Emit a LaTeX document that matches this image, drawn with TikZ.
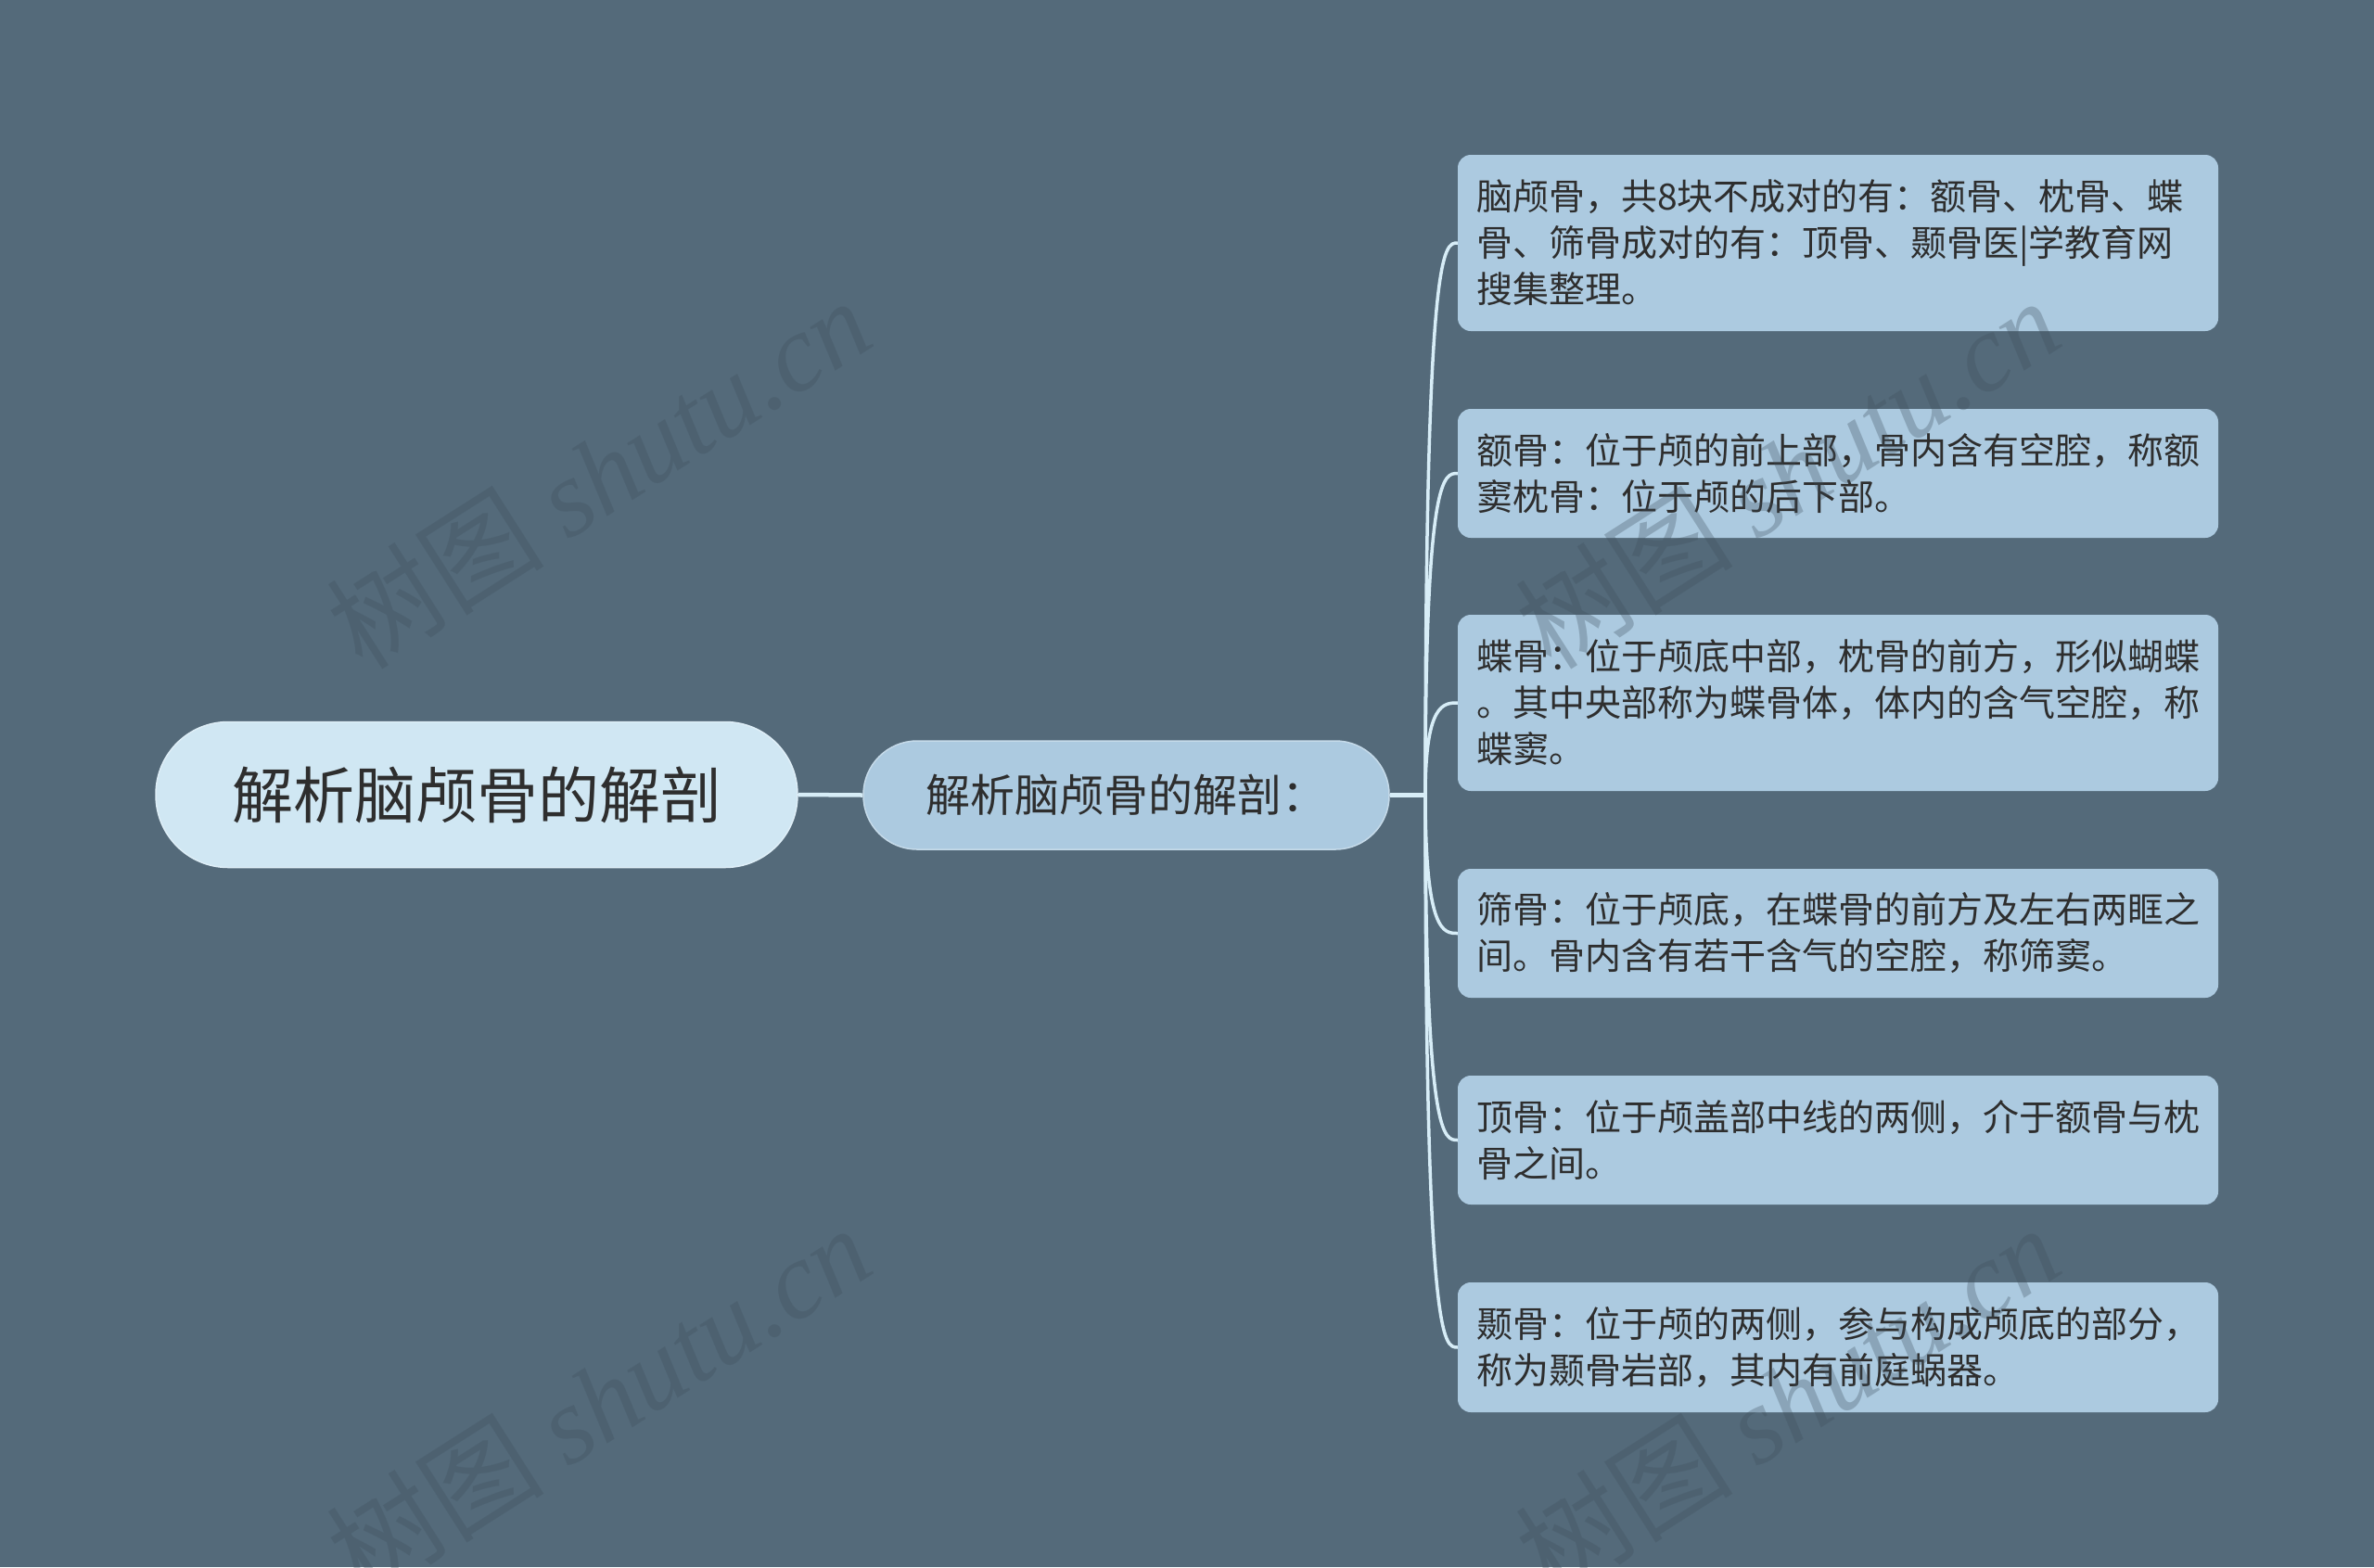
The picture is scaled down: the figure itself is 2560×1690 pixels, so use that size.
\documentclass[tikz,border=0pt]{standalone}
\usepackage{fontspec}
\setmainfont{Noto Sans CJK SC}
\newfontfamily\wmlatin{Liberation Serif}
\usetikzlibrary{calc}
\definecolor{bgc}{HTML}{546A7A}
\definecolor{rootc}{HTML}{D0E7F3}
\definecolor{boxc}{HTML}{ACCAE0}
\definecolor{linec}{HTML}{D7EDF7}
\definecolor{txtc}{HTML}{2E2E2E}
\definecolor{wmc}{HTML}{3E4F5C}
\tikzset{
  rootbox/.style={fill=rootc, draw=rootc!70!white, line width=1.5pt, rounded corners=78pt,
    minimum width=692pt, minimum height=157pt, inner sep=0pt, text=txtc,
    font=\fontsize{66}{80}\selectfont},
  subbox/.style={fill=boxc, draw=boxc!70!white, line width=1.5pt, rounded corners=58pt,
    minimum width=567pt, minimum height=117pt, inner sep=0pt, text=txtc,
    font=\fontsize{48}{60}\selectfont},
  leafbox/.style={fill=boxc, rounded corners=14pt, minimum width=820pt, text width=780pt,
    align=left, inner xsep=20pt, inner ysep=0pt, text=txtc,
    font=\fontsize{39}{50}\selectfont},
  conn/.style={draw=linec, line width=4.5pt},
  branch/.style={draw=linec, line width=3.5pt},
  wm/.style={text=wmc, text opacity=0.3, rotate=32.5, font=\fontsize{118}{130}\selectfont}
}
\begin{document}
\begin{tikzpicture}[x=1pt, y=-1pt]
\useasboundingbox (0,0) rectangle (2560,1690);
\fill[bgc] (0,0) rectangle (2560,1690);

% nodes
\node[rootbox] (root) at (514,857) {解析脑颅骨的解剖};
\node[subbox] (sub) at (1214.5,857.5) {解析脑颅骨的解剖：};
\coordinate (j) at (1537,857.5);

\node[leafbox, minimum height=190pt] (b1) at (1982,262) {脑颅骨，共8块不成对的有：额骨、枕骨、蝶\\骨、筛骨成对的有：顶骨、颞骨医|学教育网\\搜集整理。};
\node[leafbox, minimum height=139pt] (b2) at (1982,510.5) {额骨：位于颅的前上部，骨内含有空腔，称额\\窦枕骨：位于颅的后下部。};
\node[leafbox, minimum height=190pt] (b3) at (1982,758) {蝶骨：位于颅底中部，枕骨的前方，形似蝴蝶\\。其中央部称为蝶骨体，体内的含气空腔，称\\蝶窦。};
\node[leafbox, minimum height=139pt] (b4) at (1982,1006.5) {筛骨：位于颅底，在蝶骨的前方及左右两眶之\\间。骨内含有若干含气的空腔，称筛窦。};
\node[leafbox, minimum height=139pt] (b5) at (1982,1229.5) {顶骨：位于颅盖部中线的两侧，介于额骨与枕\\骨之间。};
\node[leafbox, minimum height=140pt] (b6) at (1982,1453) {颞骨：位于颅的两侧，参与构成颅底的部分，\\称为颞骨岩部，其内有前庭蜗器。};

% connectors
\draw[conn] (root.east) -- (sub.west);
\draw[conn] (sub.east) -- (j);
\foreach \b in {b1,b2,b3,b4,b5,b6}{
  \draw[branch] (j) .. controls (j |- \b.west) and ([xshift=-15pt]\b.west) .. (\b.west);
}

% watermarks (drawn on top, semi-transparent)
\node[wm] (w1) at (645,510) {树图 {\wmlatin\itshape shutu.cn}};
\node[wm] (w2) at (1927,510) {树图 {\wmlatin\itshape shutu.cn}};
\node[wm] (w3) at (645,1510) {树图 {\wmlatin\itshape shutu.cn}};
\node[wm] (w4) at (1927,1510) {树图 {\wmlatin\itshape shutu.cn}};
\end{tikzpicture}
\end{document}
